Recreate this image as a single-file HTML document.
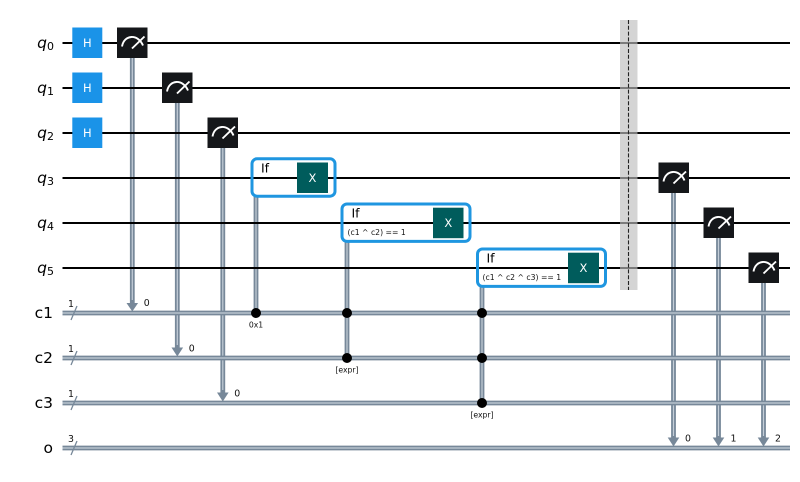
<!DOCTYPE html>
<html>
<head>
<meta charset="utf-8">
<style>
html,body{margin:0;padding:0;background:#fff;width:800px;height:482px;overflow:hidden}
svg{display:block}
text{font-family:"DejaVu Sans","Liberation Sans",sans-serif}
.q{stroke:#000;stroke-width:2;fill:none}
.co{stroke:#778899;stroke-width:4.8;fill:none}
.ci{stroke:#c4ced8;stroke-width:1.2;fill:none}
.lab{font-size:15.5px;fill:#000;text-anchor:end}
.sm{font-size:9.4px;fill:#111}
.tiny{font-size:7.7px;fill:#111}
.box{fill:none;stroke:#1f96e0;stroke-width:3}
.g{font-size:11.5px;fill:#fff;text-anchor:middle}
.mt{fill:#15171a}
.dial{fill:none;stroke:#fff;stroke-width:1.9}
</style>
</head>
<body>
<svg width="800" height="482" viewBox="0 0 800 482" xmlns="http://www.w3.org/2000/svg">
<!-- vertical classical -->
<path class="co" d="M132.300 58V303M177.300 103V348M222.800 148V393M256 196V313M347 242V358M482 287V403M673.500 193V438M718.500 238V438M763.500 283V438"/>
<path class="ci" d="M132.300 58V300M177.300 103V345M222.800 148V390M256 196V313M347 242V358M482 287V403M673.500 193V436M718.500 238V436M763.500 283V436"/>
<!-- quantum wires -->
<path class="q" d="M62.500 43H790M62.500 88H790M62.500 133H790M62.500 178H790M62.500 223H790M62.500 268H790"/>
<!-- classical wires -->
<path class="co" d="M62.500 313H790M62.500 358H790M62.500 403H790M62.500 448H790"/>
<path class="ci" d="M62.500 313H790M62.500 358H790M62.500 403H790M62.500 448H790"/>
<!-- slashes -->
<path d="M71 320L77 306M71 365L77 351M71 410L77 396M71 455L77 441" stroke="#778899" stroke-width="1.3" fill="none"/>
<!-- arrowheads -->
<g fill="#778899">
<path d="M126.500 303H138.100L132.300 311.500Z"/>
<path d="M171.500 347.500H183.100L177.300 356.500Z"/>
<path d="M217 392.500H228.600L222.800 401.500Z"/>
<path d="M667.700 437.500H679.300L673.500 446.500Z"/>
<path d="M712.700 437.500H724.300L718.500 446.500Z"/>
<path d="M757.700 437.500H769.300L763.500 446.500Z"/>
</g>
<!-- barrier -->
<rect x="620" y="20" width="17.500" height="270" fill="#bdbdbd" fill-opacity=".65"/>
<path d="M628.500 20V290" stroke="#222" stroke-width="1.1" stroke-dasharray="4 1.8" fill="none"/>
<!-- labels -->
<g class="lab">
<text x="54" y="48" font-style="italic" font-size="15.5">q<tspan font-size="11" font-style="normal" dy="2">0</tspan></text>
<text x="54" y="93" font-style="italic" font-size="15.5">q<tspan font-size="11" font-style="normal" dy="2">1</tspan></text>
<text x="54" y="138" font-style="italic" font-size="15.5">q<tspan font-size="11" font-style="normal" dy="2">2</tspan></text>
<text x="54" y="183" font-style="italic" font-size="15.5">q<tspan font-size="11" font-style="normal" dy="2">3</tspan></text>
<text x="54" y="228" font-style="italic" font-size="15.5">q<tspan font-size="11" font-style="normal" dy="2">4</tspan></text>
<text x="54" y="273" font-style="italic" font-size="15.5">q<tspan font-size="11" font-style="normal" dy="2">5</tspan></text>
<text x="53" y="318">c1</text>
<text x="53" y="363">c2</text>
<text x="53" y="408">c3</text>
<text x="53" y="453">o</text>
</g>
<!-- wire sizes -->
<text class="sm" x="68" y="307">1</text>
<text class="sm" x="68" y="352">1</text>
<text class="sm" x="68" y="397">1</text>
<text class="sm" x="68" y="442">3</text>
<!-- H gates -->
<rect x="72.300" y="27.500" width="30" height="30.500" fill="#1a93e8"/>
<rect x="72.300" y="72.500" width="30" height="30.500" fill="#1a93e8"/>
<rect x="72.300" y="117.500" width="30" height="30.500" fill="#1a93e8"/>
<text class="g" x="87.300" y="47">H</text>
<text class="g" x="87.300" y="92">H</text>
<text class="g" x="87.300" y="137">H</text>
<!-- measures -->
<rect class="mt" x="117" y="27.500" width="30.500" height="30.500"/>
<rect class="mt" x="162" y="72.500" width="30.500" height="30.500"/>
<rect class="mt" x="207.500" y="117.500" width="30.500" height="30.500"/>
<rect class="mt" x="658.500" y="162.500" width="30.500" height="30.500"/>
<rect class="mt" x="703.500" y="207.500" width="30.500" height="30.500"/>
<rect class="mt" x="748.500" y="252.500" width="30.500" height="30.500"/>
<path class="dial" transform="translate(0,0)" d="M122 46.500C124 34.500 138 33.500 143 45.500M132 48.500L144.500 36.500"/>
<path class="dial" transform="translate(45,45)" d="M122 46.500C124 34.500 138 33.500 143 45.500M132 48.500L144.500 36.500"/>
<path class="dial" transform="translate(90.500,90)" d="M122 46.500C124 34.500 138 33.500 143 45.500M132 48.500L144.500 36.500"/>
<path class="dial" transform="translate(541.500,135)" d="M122 46.500C124 34.500 138 33.500 143 45.500M132 48.500L144.500 36.500"/>
<path class="dial" transform="translate(586.500,180)" d="M122 46.500C124 34.500 138 33.500 143 45.500M132 48.500L144.500 36.500"/>
<path class="dial" transform="translate(631.500,225)" d="M122 46.500C124 34.500 138 33.500 143 45.500M132 48.500L144.500 36.500"/>
<!-- If boxes -->
<rect class="box" x="252" y="158.800" width="83" height="37.400" rx="5"/>
<rect class="box" x="342" y="204" width="128" height="37.400" rx="5"/>
<rect class="box" x="477.500" y="249" width="128" height="37.400" rx="5"/>
<rect x="297" y="162.500" width="31" height="30.500" fill="#005c5c"/>
<rect x="433" y="207.700" width="30.500" height="30.500" fill="#005c5c"/>
<rect x="568" y="252.700" width="31" height="30.500" fill="#005c5c"/>
<text class="g" x="312.500" y="182">X</text>
<text class="g" x="448.300" y="227">X</text>
<text class="g" x="583.500" y="272">X</text>
<text x="261" y="172.500" font-size="12.500" fill="#000">If</text>
<text x="351.500" y="217.500" font-size="12.500" fill="#000">If</text>
<text x="486.500" y="262.500" font-size="12.500" fill="#000">If</text>
<text class="tiny" x="347.500" y="235">(c1 ^ c2) == 1</text>
<text class="tiny" x="482.500" y="280">(c1 ^ c2 ^ c3) == 1</text>
<!-- control dots -->
<g fill="#000">
<circle cx="256" cy="313" r="5"/>
<circle cx="347" cy="313" r="5"/>
<circle cx="347" cy="358" r="5"/>
<circle cx="482" cy="313" r="5"/>
<circle cx="482" cy="358" r="5"/>
<circle cx="482" cy="403" r="5"/>
</g>
<text class="tiny" x="256" y="327.500" text-anchor="middle">0x1</text>
<text class="tiny" x="347" y="372.500" text-anchor="middle">[expr]</text>
<text class="tiny" x="482" y="417.500" text-anchor="middle">[expr]</text>
<!-- measure indices -->
<text class="sm" x="143.700" y="306">0</text>
<text class="sm" x="188.700" y="351.500">0</text>
<text class="sm" x="234.300" y="396.500">0</text>
<text class="sm" x="685" y="441.500">0</text>
<text class="sm" x="730.500" y="441.500">1</text>
<text class="sm" x="775" y="441.500">2</text>
</svg>
</body>
</html>
